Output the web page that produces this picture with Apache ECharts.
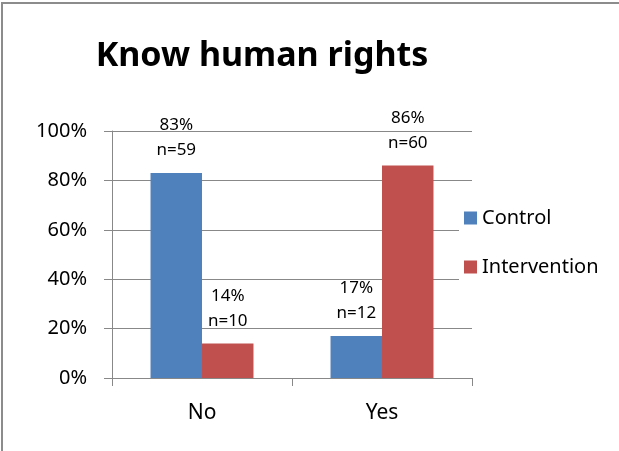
<!DOCTYPE html>
<html>
<head>
<meta charset="utf-8">
<script src="https://cdn.jsdelivr.net/npm/echarts@6/dist/echarts.min.js"></script>
<style>
  html, body { margin: 0; padding: 0; background: #fff; }
  #wrap { position: relative; width: 619px; height: 451px; overflow: hidden; }
  #chart { position: absolute; left: 0; top: 0; width: 619px; height: 451px; }
  /* frame of the original picture, only left and top edges show */
  .frame {
    position: absolute; left: 1px; top: 2px; width: 700px; height: 500px;
    border-left: 2px solid #8c8c8c; border-top: 2px solid #8c8c8c;
    pointer-events: none;
  }
</style>
</head>
<body>
<div id="wrap">
  <div id="chart"></div>
  <div class="frame"></div>
</div>
<script>
const categories = ['No', 'Yes']
const controlPct = [83, 17]
const controlN = [59, 12]
const interventionPct = [14, 86]
const interventionN = [10, 60]
const yTicks = [0, 20, 40, 60, 80, 100]

const font = '"Noto Sans", "Open Sans", sans-serif'
const gray = '#888888'

const chart = echarts.init(document.getElementById('chart'))

const makeLabel = (counts) => ({
  show: true,
  position: 'top',
  distance: 10,
  color: '#000',
  fontFamily: font,
  fontSize: 17,
  lineHeight: 25,
  formatter: (p) => p.value + '%\nn=' + counts[p.dataIndex]
})

const option = {
  backgroundColor: '#fff',
  animation: false,
  title: {
    text: 'Know human rights',
    left: 257,
    top: 34,
    textAlign: 'center',
    textStyle: {
      fontFamily: font,
      fontWeight: 'bold',
      fontSize: 34,
      color: '#000'
    }
  },
  legend: {
    orient: 'vertical',
    left: 459,
    top: 198,
    padding: [10, 10, 10, 5],
    backgroundColor: '#fff',
    itemWidth: 13,
    itemHeight: 13,
    itemGap: 29,
    icon: 'rect',
    textStyle: {
      fontFamily: font,
      fontSize: 20,
      color: '#000'
    },
    data: ['Control', 'Intervention']
  },
  grid: {
    left: 112,
    top: 131,
    width: 360,
    height: 247,
    containLabel: false
  },
  xAxis: {
    type: 'category',
    data: categories,
    axisLine: { lineStyle: { color: gray, width: 1 } },
    axisTick: { show: true, length: 8, lineStyle: { color: gray } },
    axisLabel: {
      color: '#000',
      fontFamily: font,
      fontSize: 21,
      margin: 25
    }
  },
  yAxis: {
    type: 'value',
    min: yTicks[0],
    max: yTicks[yTicks.length - 1],
    interval: 20,
    axisLine: { show: true, lineStyle: { color: gray, width: 1 } },
    axisTick: { show: true, length: 8, lineStyle: { color: gray } },
    splitLine: { lineStyle: { color: gray, width: 1 } },
    axisLabel: {
      color: '#000',
      fontFamily: font,
      fontSize: 20,
      margin: 25,
      formatter: '{value}%'
    }
  },
  series: [
    {
      name: 'Control',
      type: 'bar',
      data: controlPct,
      barWidth: '28.6%',
      barGap: '0%',
      itemStyle: { color: '#4F81BD' },
      label: makeLabel(controlN)
    },
    {
      name: 'Intervention',
      type: 'bar',
      data: interventionPct,
      barWidth: '28.6%',
      barGap: '0%',
      itemStyle: { color: '#C0504D' },
      label: makeLabel(interventionN)
    }
  ]
}

chart.setOption(option)
</script>
</body>
</html>
